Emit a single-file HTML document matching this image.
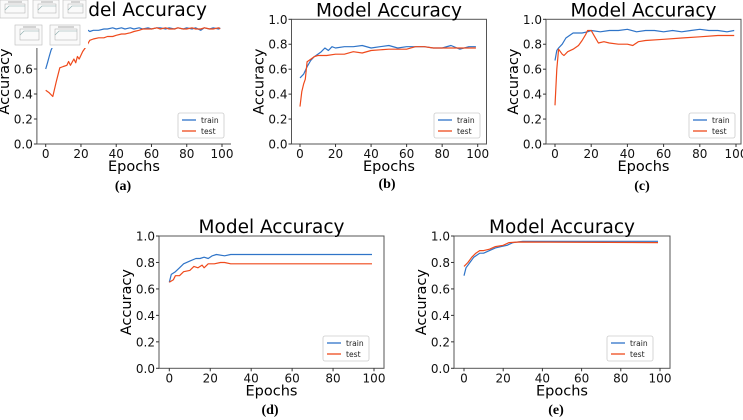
<!DOCTYPE html>
<html><head><meta charset="utf-8">
<style>
html,body{margin:0;padding:0;background:#fff;}
svg{display:block;font-family:"DejaVu Sans","Liberation Sans",sans-serif;}
</style></head>
<body>
<svg id="fig" width="743" height="420" viewBox="0 0 743 420" xmlns="http://www.w3.org/2000/svg"></svg>
<script>
// ---- data ----
const xTicks = [0,20,40,60,80,100];
const yTicks = [0.0,0.2,0.4,0.6,0.8,1.0];
const seriesNames = ["train","test"];

const aEpochs = [0,1,2,3,4,6,8,10,12,14,16,18,20,22,24,25,27,30,33,35,38,40,43,45,48,50,53,55,58,60,63,65,68,70,73,75,78,80,83,85,88,90,93,95,98,99];
const aTrain  = [0.60,0.65,0.70,0.75,0.78,0.82,0.85,0.87,0.88,0.89,0.89,0.90,0.90,0.91,0.91,0.90,0.91,0.91,0.92,0.92,0.93,0.92,0.93,0.92,0.93,0.92,0.93,0.92,0.93,0.92,0.93,0.93,0.92,0.93,0.92,0.93,0.92,0.93,0.92,0.93,0.91,0.93,0.92,0.93,0.92,0.93];
const aTestEpochs = [0,2,4,6,8,10,12,13,14,16,17,18,19,21,23,25,27,30,33,35,38,40,43,45,48,50,53,55,58,60,63,65,68,70,73,75,78,80,83,85,88,90,93,95,98,99];
const aTest   = [0.43,0.41,0.38,0.50,0.61,0.62,0.63,0.66,0.63,0.68,0.65,0.70,0.68,0.74,0.78,0.83,0.84,0.85,0.85,0.86,0.86,0.87,0.88,0.88,0.89,0.90,0.91,0.92,0.92,0.92,0.93,0.92,0.93,0.92,0.92,0.93,0.92,0.92,0.93,0.92,0.92,0.93,0.92,0.92,0.93,0.92];

const bEpochs = [0,2,4,6,8,10,12,14,16,18,20,25,30,35,40,45,50,55,60,65,70,75,80,85,90,95,99];
const bTrain  = [0.53,0.56,0.62,0.67,0.70,0.72,0.74,0.77,0.75,0.78,0.77,0.78,0.78,0.79,0.77,0.78,0.79,0.77,0.78,0.78,0.78,0.77,0.77,0.79,0.76,0.78,0.78];
const bTestEpochs = [0,1,2,3,4,6,8,10,15,20,25,30,35,40,50,60,65,70,75,80,90,99];
const bTest   = [0.30,0.42,0.48,0.52,0.66,0.68,0.70,0.71,0.71,0.72,0.72,0.74,0.73,0.75,0.76,0.76,0.78,0.78,0.77,0.77,0.77,0.77];

const cEpochs = [0,1,2,4,6,8,10,12,15,18,20,25,30,35,40,45,50,55,60,65,70,75,80,85,90,95,99];
const cTrain  = [0.67,0.75,0.77,0.80,0.85,0.87,0.89,0.89,0.89,0.90,0.91,0.90,0.91,0.91,0.92,0.90,0.91,0.91,0.90,0.91,0.90,0.91,0.92,0.91,0.91,0.90,0.91];
const cTestEpochs = [0,1,2,4,5,7,10,13,15,17,18,20,22,24,27,30,35,40,43,46,50,60,70,80,90,99];
const cTest   = [0.31,0.60,0.76,0.72,0.71,0.74,0.76,0.79,0.83,0.88,0.91,0.91,0.86,0.81,0.82,0.81,0.80,0.80,0.79,0.82,0.83,0.84,0.85,0.86,0.87,0.87];

const dEpochs = [0,1,3,5,7,10,13,15,17,19,21,23,27,30,99];
const dTrain  = [0.65,0.71,0.73,0.76,0.79,0.81,0.83,0.83,0.84,0.83,0.85,0.86,0.85,0.86,0.86];
const dTestEpochs = [0,2,3,5,7,10,12,14,16,17,19,22,25,27,30,99];
const dTest   = [0.65,0.67,0.70,0.70,0.73,0.74,0.77,0.76,0.78,0.76,0.79,0.79,0.80,0.80,0.79,0.79];

const eEpochs = [0,1,3,5,8,10,13,16,19,22,25,30,99];
const eTrain  = [0.70,0.76,0.80,0.84,0.87,0.87,0.89,0.91,0.92,0.93,0.95,0.96,0.96];
const eTestEpochs = [0,2,4,6,8,10,13,16,20,23,28,99];
const eTest   = [0.77,0.80,0.84,0.87,0.89,0.89,0.90,0.92,0.93,0.95,0.955,0.95];

// ---- layout ----
const NS = "http://www.w3.org/2000/svg";
const svg = document.getElementById('fig');
const TRAIN = "#2f74c8", TEST = "#ef4a1c";
function el(tag, attrs, parent, text){
  const e = document.createElementNS(NS, tag);
  for (const k in attrs) e.setAttribute(k, attrs[k]);
  if (text !== undefined) e.textContent = text;
  (parent||svg).appendChild(e);
  return e;
}
const panels = [
  {id:"a", left:36.9, right:231, x0:45.7, x100:222, top:19, bottom:144, te:aEpochs, tv:aTrain, se:aTestEpochs, sv:aTest, leg:[178,113], cap:[123,190], noFrame:true},
  {id:"b", left:291.5, right:486.5, x0:300, x100:477.7, top:19.3, bottom:144, te:bEpochs, tv:bTrain, se:bTestEpochs, sv:bTest, leg:[434,113], cap:[387,188]},
  {id:"c", left:546, right:741, x0:555, x100:736, top:19.3, bottom:144, te:cEpochs, tv:cTrain, se:cTestEpochs, sv:cTest, leg:[689,113], cap:[642,190]},
  {id:"d", left:159, right:384, x0:169.3, x100:374, top:236, bottom:368.3, te:dEpochs, tv:dTrain, se:dTestEpochs, sv:dTest, leg:[323,336], cap:[270,414]},
  {id:"e", left:454, right:670, x0:464, x100:660, top:236, bottom:368.3, te:eEpochs, tv:eTrain, se:eTestEpochs, sv:eTest, leg:[607,336], cap:[556,414]}
];

panels.forEach(p=>{
  const g = el('g', {});
  
  
  const xs = v => p.x0 + (p.x100 - p.x0) * v / 100;
  const ys = v => p.bottom - (p.bottom - p.top) * v;
  [[p.te,p.tv,TRAIN,'train'],[p.se,p.sv,TEST,'test']].forEach(([ex,vals,col,nm])=>{
    const pts = ex.map((e,i)=>xs(e).toFixed(1)+','+ys(vals[i]).toFixed(1)).join(' ');
    const l = el('polyline', {points:pts, fill:'none', stroke:col, 'stroke-width':1.2, 'stroke-linejoin':'round'}, g);
    
    
  });
  if (p.noFrame){
    el('line',{x1:p.left,y1:48,x2:p.left,y2:p.bottom,stroke:'#555','stroke-width':1},g);
    el('line',{x1:p.left,y1:p.bottom,x2:p.right,y2:p.bottom,stroke:'#555','stroke-width':1},g);
  } else {
    const f = el('rect',{x:p.left,y:p.top,width:p.right-p.left,height:p.bottom-p.top,fill:'none',stroke:'#555','stroke-width':1},g);
    
    
  }
  xTicks.forEach(t=>{
    el('line',{x1:xs(t),y1:p.bottom,x2:xs(t),y2:p.bottom+3,stroke:'#333'},g);
    const tx = el('text',{x:xs(t),y:p.bottom+14,'font-size':12,'text-anchor':'middle',fill:'#111'},g,String(t));
    
    
  });
  yTicks.forEach(t=>{
    if (p.noFrame && t > 0.7) return;
    el('line',{x1:p.left-3,y1:ys(t),x2:p.left,y2:ys(t),stroke:'#333'},g);
    const tx = el('text',{x:p.left-4,y:ys(t)+4.5,'font-size':12,'text-anchor':'end',fill:'#111'},g,t.toFixed(1));
    
    
  });
  const cx = (p.left+p.right)/2;
  const tt = el('text',{x:cx,y:p.top-3,'font-size':18.5,'text-anchor':'middle',fill:'#000'},g,'Model Accuracy');
  
  
  const xl = el('text',{x:cx,y:p.bottom+27,'font-size':14.5,'text-anchor':'middle',fill:'#000'},g,'Epochs');
  
  
  const ym = (p.top+p.bottom)/2, yx = p.left-28;
  const yl = el('text',{x:yx,y:ym,'font-size':14.5,'text-anchor':'middle',fill:'#000',transform:`rotate(-90 ${yx} ${ym})`},g,'Accuracy');
  
  
  const [lx,ly] = p.leg;
  const lg = el('g',{},g);
  
  
  el('rect',{x:lx,y:ly,width:46,height:25,rx:2,fill:'#fff',stroke:'#ccc','stroke-width':0.8},lg);
  el('line',{x1:lx+4,y1:ly+7,x2:lx+18,y2:ly+7,stroke:TRAIN,'stroke-width':1.3},lg);
  el('line',{x1:lx+4,y1:ly+18,x2:lx+18,y2:ly+18,stroke:TEST,'stroke-width':1.3},lg);
  el('text',{x:lx+23,y:ly+10,'font-size':7.6,fill:'#222'},lg,seriesNames[0]);
  el('text',{x:lx+23,y:ly+21,'font-size':7.6,fill:'#222'},lg,seriesNames[1]);
  const cap = el('text',{x:p.cap[0],y:p.cap[1],'font-size':14,'font-weight':'bold','text-anchor':'middle','font-family':'"Liberation Serif",serif',fill:'#000'},g,'('+p.id+')');
  
  
});

const ov = el('rect',{x:0,y:0,width:88,height:48,fill:'#fff'});


[[0,0,28,18],[33,0,26,18],[63,0,23,18],[15,25,27,20],[50,25,30,20]].forEach(r=>{
  const tg = el('g',{});
  
  
  el('rect',{x:r[0],y:r[1],width:r[2],height:r[3],fill:'#fafafa',stroke:'#bbb','stroke-width':0.6},tg);
  el('rect',{x:r[0]+5,y:r[1]+4,width:r[2]-8,height:r[3]-9,fill:'none',stroke:'#aaa','stroke-width':0.5},tg);
  el('polyline',{points:`${r[0]+5},${r[1]+10} ${r[0]+9},${r[1]+6} ${r[0]+r[2]-3},${r[1]+6}`,fill:'none',stroke:'#8aa','stroke-width':0.6},tg);
  el('line',{x1:r[0]+8,y1:r[1]+2,x2:r[0]+r[2]-6,y2:r[1]+2,stroke:'#999','stroke-width':0.8},tg);
});
</script>
</body></html>
